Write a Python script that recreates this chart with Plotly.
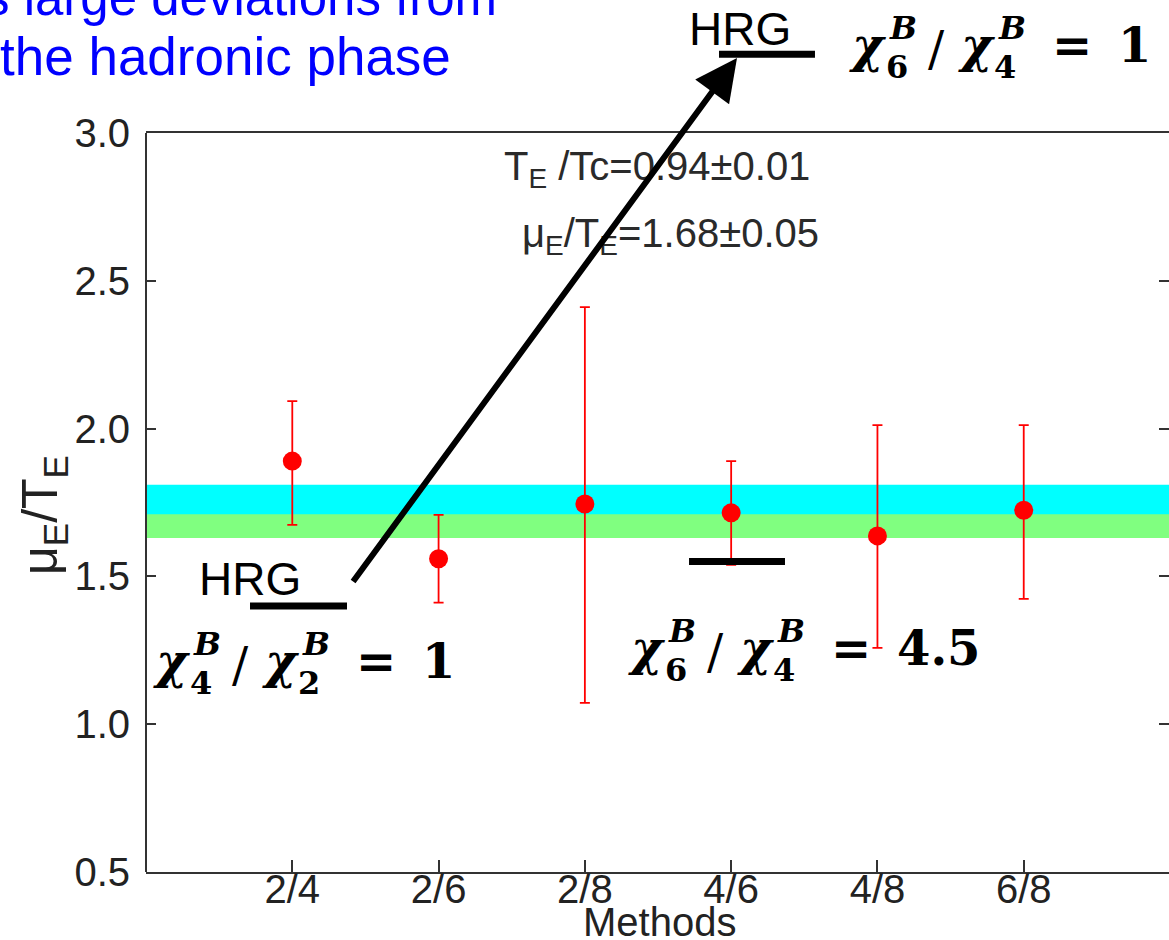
import numpy as np
import plotly.graph_objects as go

# Methods (ratio of susceptibilities used) and the extracted mu_E/T_E values
methods = ["2/4", "2/6", "2/8", "4/6", "4/8", "6/8"]
mu_over_t = [1.89, 1.56, 1.745, 1.715, 1.637, 1.724]
err_plus = [0.203, 0.148, 0.666, 0.175, 0.375, 0.288]
err_minus = [0.216, 0.149, 0.673, 0.176, 0.379, 0.300]

# Combined estimate bands
band_wide = (1.63, 1.81)
band_narrow = (1.63, 1.71)

# Hadron resonance gas levels: lower-left, middle, top
hrg_levels = [1.40, 1.55, 3.266]

# Plot frame in pixels (figure is 1169 x 940)
FIG_W, FIG_H = 1169, 940
L, R, T, B = 146, 1169, 133, 872
W, H = R - L, B - T
Y0, Y1 = 0.5, 3.0
X0, X1 = 0.0, 6.993


def px_x(px):
    return (px - L) / W


def px_y(py):
    return (B - py) / H


def val_y(v):
    return (v - Y0) / (Y1 - Y0)


idx = np.arange(1, len(methods) + 1)

fig = go.Figure()

fig.add_trace(go.Scatter(
    x=idx, y=mu_over_t, mode="markers",
    marker=dict(color="#ff0000", size=19),
    error_y=dict(type="data", symmetric=False, array=err_plus, arrayminus=err_minus,
                 color="#ff0000", thickness=1.8, width=5),
    showlegend=False, cliponaxis=False,
))

shapes = []
# bands behind the points
shapes.append(dict(type="rect", xref="paper", yref="y", x0=0, x1=1,
                   y0=band_wide[0], y1=band_wide[1], fillcolor="#00ffff",
                   line=dict(width=0), layer="below"))
shapes.append(dict(type="rect", xref="paper", yref="y", x0=0, x1=1,
                   y0=band_narrow[0], y1=band_narrow[1], fillcolor="#80ff80",
                   line=dict(width=0), layer="below"))
# left axis line
shapes.append(dict(type="line", xref="paper", yref="paper", x0=0, x1=0, y0=0, y1=1,
                   line=dict(color="#333333", width=2)))

# HRG level bars
hrg_spans = [(0.711, 1.374), (3.712, 4.368), (3.917, 4.573)]
for lev, (xa, xb) in zip(hrg_levels, hrg_spans):
    shapes.append(dict(type="line", xref="paper", yref="paper",
                       x0=(xa - X0) / (X1 - X0), x1=(xb - X0) / (X1 - X0),
                       y0=val_y(lev), y1=val_y(lev),
                       line=dict(color="black", width=7)))

annotations = []


def place(text, left, baseline, size, family="Liberation Sans, Arial", color="black",
          anchor="left", angle=0):
    annotations.append(dict(
        text=text, xref="paper", yref="paper",
        x=px_x(left), y=px_y(baseline - 0.35 * size),
        xanchor=anchor, yanchor="middle", showarrow=False, textangle=angle,
        font=dict(family=family, size=size, color=color), borderpad=0,
    ))


SERIF = "DejaVu Serif"


def chi_ratio(x0, b, num, den, rhs, main=48, script=32):
    chi = "<b><i>χ</i></b>"
    sup = "<b><i>B</i></b>"
    place(chi, x0, b, main, SERIF)
    place(sup, x0 + 40, b - 23, script, SERIF)
    place("<b>%s</b>" % num, x0 + 37, b + 16, script, SERIF)
    place("/", x0 + 79, b + 4, main, SERIF)
    place(chi, x0 + 109, b, main, SERIF)
    place(sup, x0 + 149, b - 23, script, SERIF)
    place("<b>%s</b>" % den, x0 + 145, b + 16, script, SERIF)
    place("<b>=</b>", x0 + 203, b, main, SERIF)
    place("<b>%s</b>" % rhs, x0 + 269, b, main, SERIF)


chi_ratio(152, 678, "4", "2", "1")
chi_ratio(627, 665, "6", "4", "4.5")
chi_ratio(848, 62, "6", "4", "1")

place("HRG", 198, 595, 46)
place("HRG", 688, 45, 46)

place("T<sub>E</sub> /Tc=0.94±0.01", 657, 183, 40, color="#2a2a2a", anchor="center")
place("μ<sub>E</sub>/T<sub>E</sub>=1.68±0.05", 670, 250, 40, color="#2a2a2a", anchor="center")

place("s large deviations from", 498, 15, 51, color="#0000ff", anchor="right")
place("the hadronic phase", -1, 75, 53, color="#0000ff")

# axis titles
place("Methods", 659, 936, 40, color="#222222", anchor="center")
annotations.append(dict(
    text="μ<sub>E</sub>/T<sub>E</sub>", xref="paper", yref="paper",
    x=px_x(43), y=px_y(515), xanchor="center", yanchor="middle", textangle=-90,
    showarrow=False, font=dict(size=50, color="#222222"), borderpad=0,
))

# arrow from the lower HRG level up to the upper one
annotations.append(dict(
    text="", xref="paper", yref="paper", x=px_x(737), y=px_y(58),
    ax=352 - 737, ay=583 - 58, showarrow=True, arrowhead=2, arrowsize=1.4,
    arrowwidth=6, arrowcolor="black", standoff=0,
))

fig.update_layout(
    width=FIG_W, height=FIG_H,
    margin=dict(l=L, r=FIG_W - R, t=T, b=FIG_H - B, pad=0),
    paper_bgcolor="white", plot_bgcolor="white",
    font=dict(family="Liberation Sans, Arial", color="#222222"),
    shapes=shapes, annotations=annotations,
    xaxis=dict(range=[X0, X1], tickvals=idx, ticktext=methods, automargin=False,
               ticks="inside", ticklen=12, tickwidth=2, tickcolor="#333333",
               showline=True, linecolor="#333333", linewidth=2, mirror=True,
               showgrid=False, zeroline=False, ticklabelstandoff=-19,
               tickfont=dict(size=40, color="#222222")),
    yaxis=dict(range=[Y0, Y1], dtick=0.5, tickformat=".1f", automargin=False,
               ticks="inside", ticklen=10, tickwidth=2, tickcolor="#333333",
               showline=False, mirror="ticks", ticklabelstandoff=15,
               showgrid=False, zeroline=False,
               tickfont=dict(size=40, color="#222222")),
)

fig.write_html("out.html")
